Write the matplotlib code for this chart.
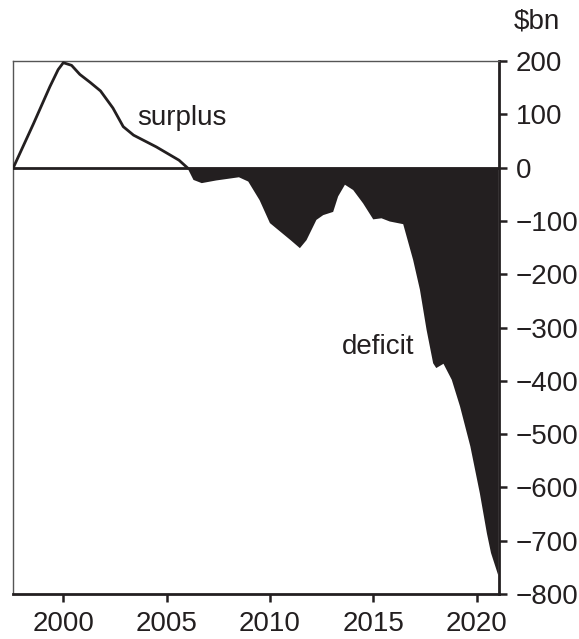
import numpy as np
import matplotlib.pyplot as plt

plt.rcParams["font.family"] = ["Liberation Sans", "DejaVu Sans"]

# Budget balance, $bn
years = [1997.58, 1998.55, 1999.35, 1999.75, 2000.0, 2000.4, 2000.8, 2001.3, 2001.8,
         2002.4, 2002.9, 2003.4, 2004.5, 2005.6, 2006.0,
         2006.3, 2006.7, 2007.4, 2008.5, 2008.95, 2009.5, 2010.0, 2010.5, 2011.0,
         2011.45, 2011.77, 2012.25, 2012.58, 2013.06, 2013.3, 2013.63, 2014.03,
         2014.51, 2015.0, 2015.4, 2015.8, 2016.45, 2016.93, 2017.26, 2017.58,
         2017.9, 2018.05, 2018.4, 2018.8, 2019.2, 2019.7, 2020.16, 2020.5,
         2020.7, 2021.05]
balance = [0, 82, 152, 184, 197, 192, 175, 160, 144,
           112, 77, 61, 39, 14, 0,
           -23, -29, -24, -18, -26, -61, -104, -120, -136,
           -151, -136, -98, -89, -83, -54, -32, -42,
           -67, -97, -95, -101, -106, -173, -229, -304,
           -367, -376, -368, -398, -448, -523, -611, -686,
           -723, -765]

ylim = (-800, 200)
yticks = [200, 100, 0, -100, -200, -300, -400, -500, -600, -700, -800]
xticks = [2000, 2005, 2010, 2015, 2020]
ink = '#231f20'

fig = plt.figure(figsize=(5.79, 6.39), dpi=100)
ax = fig.add_axes([0.023, 0.0704, 0.8393, 0.834])

yr = np.array(years)
val = np.array(balance)

# surplus line (positive part)
n_pos = balance.index(0, 1) + 1
ax.plot(yr[:n_pos], val[:n_pos], color=ink, lw=2.0, solid_joinstyle='round', zorder=3)

# deficit area
ax.fill_between(yr, val, 0, where=val <= 0, interpolate=True,
                color=ink, lw=0, zorder=2)

ax.axhline(0, color=ink, lw=2.0, zorder=4)

ax.set_xlim(1997.58, 2021.1)
ax.set_ylim(*ylim)
ax.set_xticks(xticks)
ax.set_yticks(yticks)
ax.set_yticklabels(['\u2212' + str(-t) if t < 0 else str(t) for t in yticks])

ax.yaxis.tick_right()
ax.tick_params(axis='both', labelsize=20, direction='out', length=6,
               width=1.8, color=ink, labelcolor=ink)
ax.tick_params(axis='x', pad=6)
ax.tick_params(axis='y', pad=6)

for side in ['top', 'left']:
    ax.spines[side].set_color('#555555')
    ax.spines[side].set_linewidth(1.0)
for side in ['bottom', 'right']:
    ax.spines[side].set_color(ink)
    ax.spines[side].set_linewidth(2.0)

ax.text(2005.72, 93, 'surplus', fontsize=20, color=ink, ha='center', va='center')
ax.text(2015.22, -336, 'deficit', fontsize=20, color=ink, ha='center', va='center')
fig.text(0.927, 0.966, '$bn', fontsize=20, color=ink, ha='center', va='center')

fig.savefig('out.png', dpi=100, facecolor='white')
